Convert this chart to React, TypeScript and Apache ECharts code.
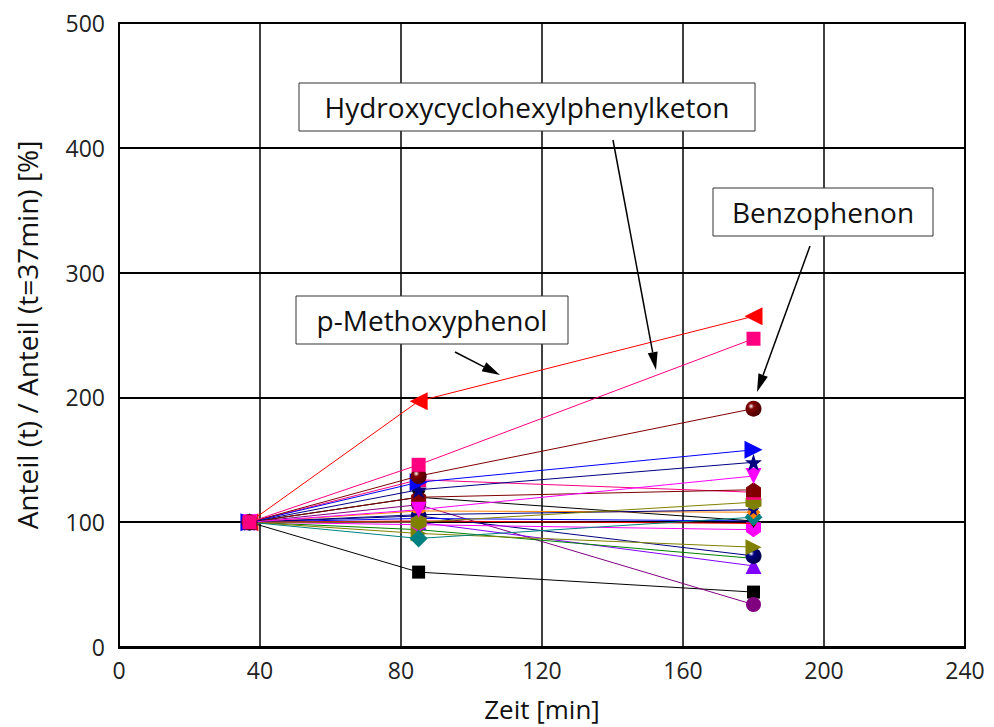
import React, { useEffect, useRef } from "react";
import * as echarts from "echarts";

const times = [37, 85, 180];
const xTicks = [0, 40, 80, 120, 160, 200, 240];
const yTicks = [0, 100, 200, 300, 400, 500];

const seriesNames = [
  "s1", "s2", "s3", "s4", "s5", "s6", "s7", "s8", "s9", "s10", "s11",
  "s12", "s13", "s14", "s15", "s16", "s17", "s18", "s19", "s20", "s21", "s22",
];
const seriesColors = [
  "#ff0000", "#000000", "#800080", "#8000ff", "#008000", "#000080", "#808000",
  "#ff00ff", "#0000ff", "#ff0000", "#000000", "#008080", "#ff8000", "#000080",
  "#808000", "#ff0080", "#800000", "#ff00ff", "#000080", "#0000ff", "#800000", "#ff0080",
];
const values37 = [100, 100, 100, 100, 100, 100, 100, 100, 100, 100, 100, 100, 100, 100, 100, 100, 100, 100, 100, 100, 100, 100];
const values85 = [197, 60, 114, 100, 94, 105, 91, 98, 103, 101, 120, 87, 109, 106, 100, 134, 120, 110, 126, 132, 137, 146];
const values180 = [265, 44, 34, 65, 71, 73, 80, 94, 101, 99, 101, 104, 108, 110, 116, 124, 126, 137, 148, 158, 191, 247];

const STAR = "path://M0,-10 L2.35,-3.24 L9.51,-3.09 L3.8,1.24 L5.88,8.09 L0,4 L-5.88,8.09 L-3.8,1.24 L-9.51,-3.09 L-2.35,-3.24 Z";
const HEX = "path://M-8.66,-5 L0,-10 L8.66,-5 L8.66,5 L0,10 L-8.66,5 Z";
const HOUSE = "path://M0,-10 L10,-3 L10,10 L-10,10 L-10,-3 Z";

type Sym = { symbol: string; rotate?: number; size: number; sphere?: boolean };
const symbols: Sym[] = [
  { symbol: "triangle", rotate: 90, size: 18 },
  { symbol: "rect", size: 13 },
  { symbol: "circle", size: 15 },
  { symbol: "triangle", size: 16 },
  { symbol: "circle", size: 8 },
  { symbol: "circle", size: 16, sphere: true },
  { symbol: "triangle", rotate: -90, size: 16 },
  { symbol: "path://M0,10 L10,3 L10,-10 L-10,-10 L-10,3 Z", size: 15 },
  { symbol: "circle", size: 6 },
  { symbol: "circle", size: 6 },
  { symbol: "triangle", rotate: 180, size: 14 },
  { symbol: "diamond", size: 18 },
  { symbol: "diamond", size: 14 },
  { symbol: STAR, size: 12 },
  { symbol: HEX, size: 16 },
  { symbol: HOUSE, size: 15 },
  { symbol: HOUSE, size: 15 },
  { symbol: "triangle", rotate: 180, size: 16 },
  { symbol: STAR, size: 17 },
  { symbol: "triangle", rotate: -90, size: 18 },
  { symbol: "circle", size: 16, sphere: true },
  { symbol: "rect", size: 14 },
];

function darken(hex: string): string {
  const n = parseInt(hex.slice(1), 16);
  const r = Math.round(((n >> 16) & 255) * 0.5);
  const g = Math.round(((n >> 8) & 255) * 0.5);
  const b = Math.round((n & 255) * 0.5);
  return `rgb(${r},${g},${b})`;
}

function arrow(x1: number, y1: number, x2: number, y2: number) {
  const dx = x2 - x1;
  const dy = y2 - y1;
  const len = Math.sqrt(dx * dx + dy * dy);
  const ux = dx / len;
  const uy = dy / len;
  const hl = 18;
  const hw = 5;
  const bx = x2 - ux * hl;
  const by = y2 - uy * hl;
  const px = -uy * hw;
  const py = ux * hw;
  return [
    { type: "line", shape: { x1, y1, x2: bx, y2: by }, style: { stroke: "#000", lineWidth: 1.5 }, z: 100 },
    {
      type: "polygon",
      shape: { points: [[x2, y2], [bx + px, by + py], [bx - px, by - py]] },
      style: { fill: "#000" },
      z: 100,
    },
  ];
}

function labelBox(x: number, y: number, w: number, h: number, text: string) {
  return [
    { type: "rect", shape: { x, y, width: w, height: h }, style: { fill: "#fff", stroke: "#333", lineWidth: 1 }, z: 100 },
    {
      type: "text",
      x: x + w / 2,
      y: y + h / 2,
      style: { text, fill: "#111", font: "28px 'Open Sans'", align: "center", verticalAlign: "middle" },
      z: 101,
    },
  ];
}

export default function App() {
  const ref = useRef<HTMLDivElement>(null);
  useEffect(() => {
    if (!ref.current) return;
    const chart = echarts.init(ref.current, null, { renderer: "svg" });
    const series = seriesNames.map((name, i) => {
      const s = symbols[i];
      const c = seriesColors[i];
      const fill = s.sphere
        ? {
            type: "radial",
            x: 0.35,
            y: 0.35,
            r: 0.75,
            colorStops: [
              { offset: 0, color: "#ffffff" },
              { offset: 0.25, color: c },
              { offset: 1, color: darken(c) },
            ],
          }
        : c;
      return {
        name,
        type: "line",
        data: times.map((t, k) => [t, [values37, values85, values180][k][i]]),
        symbol: s.symbol,
        symbolSize: s.size,
        symbolRotate: s.rotate || 0,
        showSymbol: true,
        lineStyle: { color: c, width: 1 },
        itemStyle: { color: fill, borderWidth: 0 },
        emphasis: { disabled: true },
        z: 2 + i,
      };
    });
    const option = {
      animation: false,
      textStyle: { fontFamily: "'Open Sans'" },
      grid: { left: 119, top: 23, right: 29, bottom: 79, containLabel: false },
      xAxis: {
        type: "value",
        min: 0,
        max: 240,
        interval: 40,
        name: "Zeit [min]",
        nameLocation: "middle",
        nameGap: 49,
        nameTextStyle: { fontSize: 26, color: "#111" },
        axisLine: { show: true, onZero: false, lineStyle: { color: "#000", width: 2 } },
        axisTick: { show: false },
        axisLabel: { fontSize: 23, color: "#222", margin: 11 },
        splitLine: { show: true, lineStyle: { color: "#000", width: 1.5 } },
      },
      yAxis: {
        type: "value",
        min: 0,
        max: 500,
        interval: 100,
        name: "Anteil (t) / Anteil (t=37min) [%]",
        nameLocation: "middle",
        nameGap: 78,
        nameTextStyle: { fontSize: 28, color: "#111" },
        axisLine: { show: true, onZero: false, lineStyle: { color: "#000", width: 2 } },
        axisTick: { show: false },
        axisLabel: { fontSize: 23, color: "#222", margin: 14 },
        splitLine: { show: true, lineStyle: { color: "#000", width: 2 } },
      },
      series,
      graphic: [
        {
          type: "rect",
          shape: { x: 119, y: 23, width: 846, height: 625 },
          style: { fill: "none", stroke: "#000", lineWidth: 2 },
          z: 50,
          silent: true,
        },
        ...labelBox(299, 83, 456, 48, "Hydroxycyclohexylphenylketon"),
        ...arrow(613, 140, 656, 370),
        ...labelBox(713, 188, 220, 48, "Benzophenon"),
        ...arrow(810, 246, 757, 392),
        ...labelBox(296, 296, 272, 48, "p-Methoxyphenol"),
        ...arrow(455, 352, 500, 375),
      ],
    };
    chart.setOption(option as any);
    return () => chart.dispose();
  }, []);
  return <div ref={ref} style={{ width: 994, height: 727, position: "absolute", left: 0, top: 0, background: "#fff" }} />;
}
